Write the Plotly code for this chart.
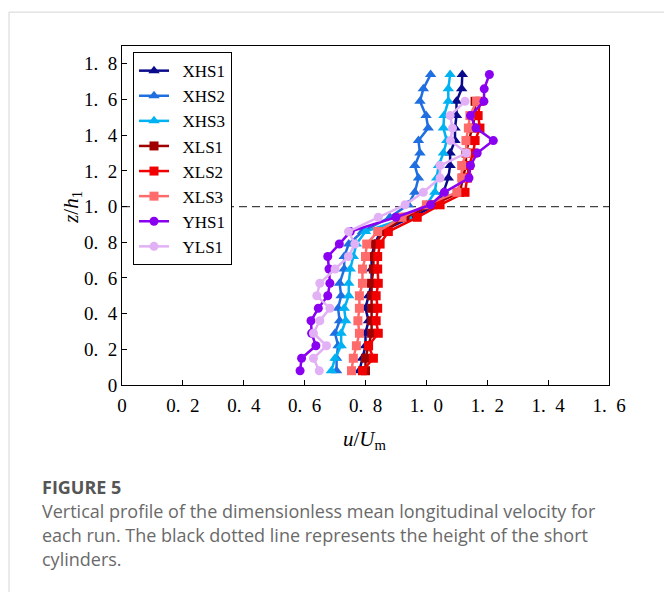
import plotly.graph_objects as go

# ---- data ----
z_H = [0.08, 0.15, 0.22, 0.29, 0.36, 0.43, 0.50, 0.57, 0.65, 0.72, 0.79, 0.86,
       0.94, 1.01, 1.08, 1.16, 1.23, 1.30, 1.37, 1.44, 1.51, 1.59, 1.66, 1.74]
z_L = [0.08, 0.15, 0.22, 0.29, 0.36, 0.43, 0.50, 0.57, 0.65, 0.72, 0.79, 0.86,
       0.94, 1.01, 1.08, 1.16, 1.23, 1.30, 1.37, 1.44, 1.51, 1.59]

XHS1 = [0.78, 0.79, 0.80, 0.80, 0.81, 0.80, 0.81, 0.82, 0.82, 0.82, 0.83, 0.85,
        0.95, 1.034, 1.056, 1.072, 1.078, 1.078, 1.094, 1.094, 1.099, 1.099, 1.116, 1.118]
XHS2 = [0.705, 0.705, 0.71, 0.70, 0.715, 0.71, 0.72, 0.715, 0.73, 0.73, 0.745, 0.79,
        0.88, 0.94, 0.962, 0.974, 0.962, 0.979, 0.974, 1.006, 0.999, 0.979, 0.99, 1.014]
XHS3 = [0.688, 0.70, 0.72, 0.72, 0.735, 0.73, 0.745, 0.745, 0.75, 0.76, 0.77, 0.80,
        0.94, 1.0, 1.028, 1.034, 1.04, 1.056, 1.067, 1.056, 1.058, 1.072, 1.072, 1.078]
XLS1 = [0.80, 0.80, 0.81, 0.82, 0.82, 0.82, 0.82, 0.82, 0.826, 0.826, 0.831, 0.86,
        0.93, 1.02, 1.11, 1.12, 1.13, 1.13, 1.14, 1.15, 1.16, 1.16]
XLS2 = [0.79, 0.826, 0.81, 0.842, 0.835, 0.84, 0.835, 0.842, 0.84, 0.84, 0.848, 0.875,
        0.97, 1.045, 1.127, 1.135, 1.14, 1.154, 1.16, 1.176, 1.17, 1.176]
XLS3 = [0.754, 0.76, 0.77, 0.78, 0.775, 0.78, 0.78, 0.79, 0.79, 0.80, 0.804, 0.84,
        0.92, 1.00, 1.10, 1.116, 1.116, 1.132, 1.13, 1.138, 1.143, 1.165]
YHS1 = [0.585, 0.59, 0.637, 0.623, 0.621, 0.645, 0.676, 0.683, 0.68, 0.676, 0.714, 0.75,
        0.90, 1.014, 1.059, 1.14, 1.145, 1.167, 1.22, 1.163, 1.145, 1.189, 1.19, 1.207]
YLS1 = [0.648, 0.629, 0.672, 0.629, 0.65, 0.683, 0.64, 0.65, 0.70, 0.744, 0.765, 0.744,
        0.842, 0.93, 0.99, 1.045, 1.045, 1.132, 1.079, 1.086, 1.078, 1.127]

series_names = ["XHS1", "XHS2", "XHS3", "XLS1", "XLS2", "XLS3", "YHS1", "YLS1"]
series_u = [XHS1, XHS2, XHS3, XLS1, XLS2, XLS3, YHS1, YLS1]
series_z = [z_H, z_H, z_H, z_L, z_L, z_L, z_H, z_L]
colors = ["#0a0a8c", "#1f6fe0", "#00b2f2", "#a00000", "#f00000", "#ff6b6b", "#8a00f0", "#e2b0f5"]
symbols = ["triangle-up"] * 3 + ["square"] * 3 + ["circle"] * 2
msizes = [10, 10, 10, 9, 9, 9, 9, 9]

x_ticks = [0, 0.2, 0.4, 0.6, 0.8, 1.0, 1.2, 1.4, 1.6]
x_ticktext = ["0", "0.\u20022", "0.\u20024", "0.\u20026", "0.\u20028", "1.\u20020", "1.\u20022", "1.\u20024", "1.\u20026"]
y_ticks = [0, 0.2, 0.4, 0.6, 0.8, 1.0, 1.2, 1.4, 1.6, 1.8]
y_ticktext = ["0", "0.\u20022", "0.\u20024", "0.\u20026", "0.\u20028", "1.\u20020", "1.\u20022", "1.\u20024", "1.\u20026", "1.\u20028"]
h_line = 1.0

caption_title = "FIGURE 5"
caption_lines = [
    "Vertical profile of the dimensionless mean longitudinal velocity for",
    "each run. The black dotted line represents the height of the short",
    "cylinders.",
]

SERIF = "Liberation Serif, Times New Roman, serif"

fig = go.Figure()
for i, (name, u, z) in enumerate(zip(series_names, series_u, series_z)):
    fig.add_trace(go.Scatter(
        x=u, y=z, name="\u2002" + name, mode="lines+markers",
        line=dict(color=colors[i], width=2.5),
        marker=dict(symbol=symbols[i], size=msizes[i], color=colors[i]),
        legendgroup=name,
    ))

fig.add_shape(type="line", xref="x", yref="y", x0=0, x1=1.6, y0=h_line, y1=h_line,
              line=dict(color="#444444", width=1.2, dash="8px,5px"), layer="below")

# outer light frame
fig.add_shape(type="line", xref="paper", yref="paper", x0=-0.232, x1=1.2, y0=1.1, y1=1.1,
              line=dict(color="#d5d5d5", width=1))
fig.add_shape(type="line", xref="paper", yref="paper", x0=-0.232, x1=-0.232, y0=1.1, y1=-0.62,
              line=dict(color="#d5d5d5", width=1))

axis_common = dict(showline=True, linecolor="black", linewidth=1, mirror=True,
                   ticks="inside", ticklen=5, tickwidth=1, tickcolor="black",
                   showgrid=False, zeroline=False,
                   tickfont=dict(family=SERIF, size=19, color="black"))

fig.update_xaxes(range=[0, 1.6], tickvals=x_ticks, ticktext=x_ticktext,
                 ticklabelstandoff=3, **axis_common)
fig.update_yaxes(range=[0, 1.9], tickvals=y_ticks, ticktext=y_ticktext, **axis_common)

fig.add_annotation(xref="paper", yref="paper", x=-0.103, y=0.525, xanchor="center", yanchor="middle",
                   showarrow=False, text="<i>z</i>/<i>h</i><sub>1</sub>", textangle=-90,
                   font=dict(family=SERIF, size=21, color="black"))
fig.add_annotation(xref="paper", yref="paper", x=0.499, y=-0.162, xanchor="center", yanchor="middle",
                   showarrow=False, text="<i>u</i>/<i>U</i><sub>m</sub>",
                   font=dict(family=SERIF, size=21, color="black"))

fig.add_annotation(xref="paper", yref="paper", x=-0.1684, y=-0.3009, xanchor="left", yanchor="middle",
                   showarrow=False, text="<b>" + caption_title + "</b>",
                   font=dict(family="Open Sans, sans-serif", size=18, color="#555555"))
for k, line in enumerate(caption_lines):
    fig.add_annotation(xref="paper", yref="paper", x=-0.1684, y=-0.3717 - 0.0708 * k,
                       xanchor="left", yanchor="middle", showarrow=False, text=line,
                       font=dict(family="Open Sans, sans-serif", size=18, color="#6a6a6a"))

fig.update_layout(
    width=664, height=592,
    margin=dict(l=122, r=55, t=46, b=207),
    paper_bgcolor="white", plot_bgcolor="white",
    showlegend=True,
    legend=dict(x=0.0226, y=0.982, xanchor="left", yanchor="top",
                bgcolor="white", bordercolor="black", borderwidth=1,
                font=dict(family=SERIF, size=17, color="black"),
                tracegroupgap=0, itemwidth=30),
)

fig.write_html("out.html", config={"displayModeBar": False},
               post_script="document.body.style.margin='0';document.body.style.padding='0';")
